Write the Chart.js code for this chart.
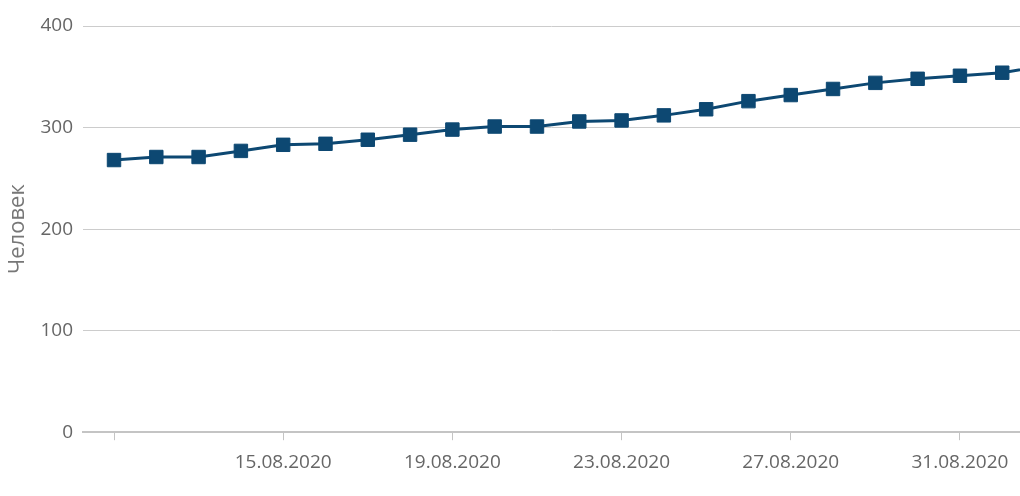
<!DOCTYPE html>
<html>
<head>
<meta charset="utf-8">
<style>
  html, body { margin: 0; padding: 0; background: #fff; overflow: hidden; }
  #wrap { width: 1020px; height: 496px; position: relative; }
</style>
<script src="https://cdn.jsdelivr.net/npm/chart.js@4/dist/chart.umd.min.js"></script>
</head>
<body>
<div id="wrap"><canvas id="chart"></canvas></div>
<script>
// Daily headcount, 11.08.2020 – 02.09.2020
const dates = [
  '11.08.2020', '12.08.2020', '13.08.2020', '14.08.2020', '15.08.2020', '16.08.2020',
  '17.08.2020', '18.08.2020', '19.08.2020', '20.08.2020', '21.08.2020', '22.08.2020',
  '23.08.2020', '24.08.2020', '25.08.2020', '26.08.2020', '27.08.2020', '28.08.2020',
  '29.08.2020', '30.08.2020', '31.08.2020', '01.09.2020', '02.09.2020'
];
const persons = [
  268, 271, 271, 277, 283, 284,
  288, 293, 298, 301, 301, 306,
  307, 312, 318, 326, 332, 338,
  344, 348, 351, 354, 361
];
const yTicks = [0, 100, 200, 300, 400];
const xTickEvery = 4;

const navy = '#0d4872';
const points = persons.map((v, i) => ({ x: i, y: v }));

new Chart(document.getElementById('chart'), {
  type: 'line',
  data: {
    datasets: [{
      data: points,
      borderColor: navy,
      backgroundColor: navy,
      borderWidth: 3,
      pointStyle: 'rect',
      pointRadius: 9.5,
      pointBorderWidth: 1,
      pointBorderColor: navy,
      pointBackgroundColor: navy,
      tension: 0,
      fill: false
    }]
  },
  options: {
    responsive: true,
    maintainAspectRatio: false,
    animation: false,
    layout: { autoPadding: false, padding: { left: 3, right: 0, top: 26, bottom: 11 } },
    plugins: { legend: { display: false }, tooltip: { enabled: false } },
    scales: {
      x: {
        type: 'linear',
        min: -0.733,
        max: 21.42,
        afterBuildTicks: (scale) => {
          const t = [];
          for (let i = 0; i < dates.length; i += xTickEvery) {
            if (i <= scale.max) t.push({ value: i });
          }
          scale.ticks = t;
        },
        afterFit: (scale) => { scale.paddingLeft = 0; scale.paddingRight = 0; },
        grid: {
          drawOnChartArea: false,
          drawTicks: true,
          tickLength: 8,
          tickColor: '#c4c4c4',
          tickWidth: 1
        },
        border: { display: true, color: '#c4c4c4', width: 2 },
        ticks: {
          padding: 11,
          maxRotation: 0,
          autoSkip: false,
          color: '#666',
          font: { family: 'Open Sans', size: 19 },
          callback: (v) => (v === 0 ? '' : dates[v])
        }
      },
      y: {
        min: yTicks[0],
        max: yTicks[yTicks.length - 1],
        afterBuildTicks: (scale) => { scale.ticks = yTicks.map(v => ({ value: v })); },
        afterFit: (scale) => { scale.width = 80; },
        grid: { color: '#cccccc', lineWidth: 1, drawTicks: false },
        border: { display: false },
        ticks: {
          padding: 10,
          color: '#666',
          font: { family: 'Open Sans', size: 19 }
        },
        title: {
          display: true,
          text: 'Человек',
          color: '#777',
          font: { family: 'Open Sans', size: 22 },
          padding: { top: 2, bottom: 4 }
        }
      }
    }
  }
});
</script>
</body>
</html>
